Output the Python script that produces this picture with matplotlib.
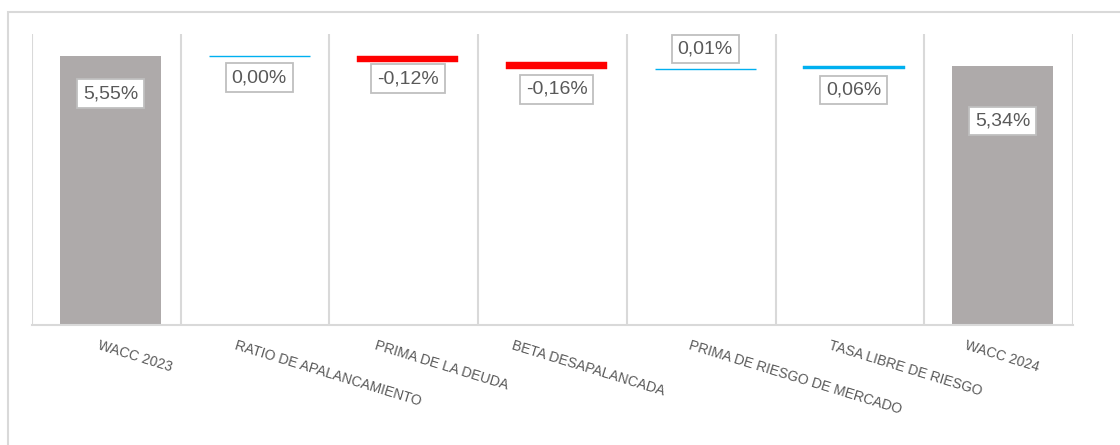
import numpy as np
import matplotlib
matplotlib.use('Agg')
from matplotlib import pyplot as plt
from matplotlib.patches import Rectangle

plt.rcParams['font.family'] = ['Liberation Sans', 'DejaVu Sans']

categories = ['WACC 2023', 'RATIO DE APALANCAMIENTO', 'PRIMA DE LA DEUDA',
              'BETA DESAPALANCADA', 'PRIMA DE RIESGO DE MERCADO',
              'TASA LIBRE DE RIESGO', 'WACC 2024']
values = [5.55, 0.00, -0.12, -0.16, 0.01, 0.06, 5.34]
is_total = [True, False, False, False, False, False, True]
value_labels = ['5,55%', '0,00%', '-0,12%', '-0,16%', '0,01%', '0,06%', '5,34%']

GREY = '#AEAAAA'
BLUE = '#00B0F0'
RED = '#FF0000'
GRID = '#D9D9D9'
TXT = '#595959'

fig = plt.figure(figsize=(11.2, 4.45), dpi=100)
ax = fig.add_axes([32/1120, 120/445, (1073-32)/1120, (325-34)/445])

# waterfall geometry
bottoms, heights, colors = [], [], []
run = 0.0
for v, tot in zip(values, is_total):
    if tot:
        bottoms.append(0)
        heights.append(v)
        colors.append(GREY)
        run = v
    else:
        new = run + v
        bottoms.append(min(run, new))
        heights.append(abs(v))
        colors.append(RED if v < 0 else BLUE)
        run = new

x = np.arange(len(categories))
for i in range(len(x)):
    if is_total[i]:
        ax.bar(x[i], heights[i], bottom=bottoms[i], width=0.68, color=colors[i], zorder=2)
    else:
        # tiny steps still show up as a hairline, like excel does
        lw = 1.0 if heights[i] < 0.03 else 0.3
        ax.bar(x[i], heights[i], bottom=bottoms[i], width=0.68, color=colors[i],
               edgecolor=colors[i], linewidth=lw, zorder=2)

# data labels (pixel offsets from bar edge, points = px*0.72)
label_off = [-38, -22, -17, -20, 20, -21, -55]
for i in range(len(x)):
    if is_total[i] or label_off[i] > 0:
        ref = bottoms[i] + heights[i]
    else:
        ref = bottoms[i]
    ax.annotate(value_labels[i], xy=(x[i], ref), xytext=(0, label_off[i]*0.72),
                textcoords='offset points', ha='center', va='center',
                fontsize=14, color=TXT, zorder=4,
                bbox=dict(boxstyle='square,pad=0.3', fc='white', ec='#BFBFBF', lw=1.3))

# excel draws the bars a few px right of the category centre
shift = 0.027
ax.set_xlim(-0.5 - shift, len(categories) - 0.5 - shift)
ax.set_ylim(0, 6)
for b in np.arange(-0.5, len(categories), 1.0):
    ax.axvline(b - shift, color=GRID, lw=1.5, zorder=1)
for s in ['top', 'right', 'left']:
    ax.spines[s].set_visible(False)
ax.spines['bottom'].set_color(GRID)
ax.spines['bottom'].set_linewidth(1.5)
ax.set_yticks([])
ax.set_xticks([])

# rotated category labels
cat_off = [-10, -22, -31, -42, -14, -23, -35]
for i, c in enumerate(categories):
    ax.annotate(c, xy=(x[i], 0), xycoords=('data', 'axes fraction'),
                xytext=(cat_off[i]*0.72, -10), textcoords='offset points',
                ha='left', va='top', rotation=-17, rotation_mode='anchor',
                fontsize=10, color=TXT)

# outer chart border
fig.patches.append(Rectangle((8/1120, -0.05), 1.1, (445-12)/445 + 0.05,
                             transform=fig.transFigure, fill=False,
                             ec=GRID, lw=1.5, zorder=0))

fig.savefig('out.png', dpi=100)
